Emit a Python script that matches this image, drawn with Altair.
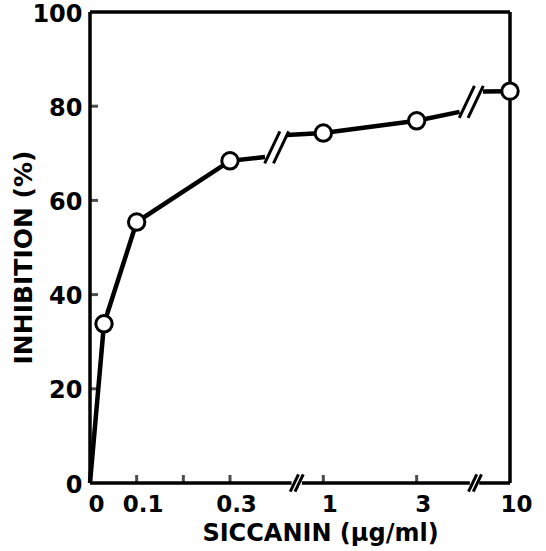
import altair as alt
import pandas as pd

# ---- data (x in broken-axis position units: 0->0, 0.1->0.5, 0.2->1, 0.3->1.5, 1->2.5, 3->3.5, 10->4.5)
TICK_POS = [0, 0.5, 1.5, 2.5, 3.5, 4.5]
TICK_LABELS = ["0", "0.1", "0.3", "1", "3", "10"]
X_TICK_MARKS = [0.5, 1.0, 1.5, 2.5, 3.5]
Y_TICKS = [0, 20, 40, 60, 80, 100]
Y_TICK_MARKS = [20, 40, 60, 80]

POINT_X = [0.15, 0.5, 1.5, 2.5, 3.5, 4.5]
POINT_Y = [33.8, 55.4, 68.4, 74.3, 76.9, 83.2]

SEG_ID = [1, 1, 1, 1, 1, 2, 2, 2, 2, 3, 3]
SEG_X = [0, 0.15, 0.5, 1.5, 1.875, 2.11, 2.5, 3.5, 3.96, 4.21, 4.5]
SEG_Y = [0, 33.8, 55.4, 68.4, 69.2, 73.9, 74.3, 76.9, 78.8, 83.1, 83.2]

LINE_BREAK_X = [2.0, 4.085]
LINE_BREAK_Y = [71.25, 80.9]
AXIS_BREAK_X = [2.215, 4.125]
AXIS_SEG_START = [0, 2.27, 4.17]
AXIS_SEG_END = [2.16, 4.07, 4.5]

X_MAX = 4.5
Y_MAX = 100

FONT = "DejaVu Sans"
SLASH = "M -0.75 1 L 0.2 -1 M -0.2 1 L 0.75 -1"

xs = alt.Scale(domain=[0, X_MAX], nice=False, zero=False)
ys = alt.Scale(domain=[0, Y_MAX], nice=False, zero=False)

label_expr = "{}[indexof({}, datum.value)]".format(
    "[" + ",".join("'%s'" % l for l in TICK_LABELS) + "]",
    "[" + ",".join(str(p) for p in TICK_POS) + "]",
)

x_axis = alt.Axis(
    values=TICK_POS, labelExpr=label_expr, title="SICCANIN (µg/ml)",
    domain=False, ticks=False, grid=False,
    labelFlush=False, labelOverlap=False, labelBound=False,
    labelFont=FONT, labelFontSize=23, labelFontWeight="bold", labelColor="black",
    labelPadding=10, labelOffset=6, labelAlign="center", labelBaseline="top",
    titleFont=FONT, titleFontSize=24, titleFontWeight="bold", titleColor="black",
    titleX=230, titleY=38, titleBaseline="top", titleAlign="center",
)
y_axis = alt.Axis(
    values=Y_TICKS, format="d", title="INHIBITION (%)",
    domain=False, ticks=False, grid=False,
    labelFlush=False, labelOverlap=False, labelBound=False,
    labelFont=FONT, labelFontSize=24, labelFontWeight="bold", labelColor="black",
    labelPadding=8, labelOffset=2,
    titleFont=FONT, titleFontSize=25, titleFontWeight="bold", titleColor="black",
    titleX=-67, titleY=245, titleAngle=270, titleBaseline="middle", titleAlign="center",
)

X = alt.X("x:Q", scale=xs, axis=x_axis)
Y = alt.Y("y:Q", scale=ys, axis=y_axis)

seg_df = pd.DataFrame({"seg": SEG_ID, "x": SEG_X, "y": SEG_Y})
pts_df = pd.DataFrame({"x": POINT_X, "y": POINT_Y})
lb_df = pd.DataFrame({"x": LINE_BREAK_X, "y": LINE_BREAK_Y})
ab_df = pd.DataFrame({"x": AXIS_BREAK_X, "y": [0] * len(AXIS_BREAK_X)})
bottom_df = pd.DataFrame({"x": AXIS_SEG_START, "x2": AXIS_SEG_END, "y": [0] * len(AXIS_SEG_START)})
frame_v_df = pd.DataFrame({"x": [0, X_MAX], "y": [0, 0], "y2": [Y_MAX, Y_MAX]})
frame_t_df = pd.DataFrame({"x": [0], "x2": [X_MAX], "y": [Y_MAX]})
xt_df = pd.DataFrame({"x": X_TICK_MARKS, "y": [0] * len(X_TICK_MARKS)})
yt_df = pd.DataFrame({"x": [0] * len(Y_TICK_MARKS), "y": Y_TICK_MARKS})

frame_v = alt.Chart(frame_v_df).mark_rule(color="black", strokeWidth=3.5).encode(x=X, y=Y, y2="y2:Q")
frame_t = alt.Chart(frame_t_df).mark_rule(color="black", strokeWidth=3.5).encode(x=X, x2="x2:Q", y=Y)
bottom = alt.Chart(bottom_df).mark_rule(color="black", strokeWidth=3.5).encode(x=X, x2="x2:Q", y=Y)

xticks = alt.Chart(xt_df).mark_tick(color="black", orient="vertical", size=8, thickness=3,
                                    yOffset=-4).encode(x=X, y=Y)
yticks = alt.Chart(yt_df).mark_tick(color="black", orient="horizontal", size=8, thickness=3,
                                    xOffset=4).encode(x=X, y=Y)

axis_breaks = alt.Chart(ab_df).mark_point(shape=SLASH, size=300, filled=False, stroke="black",
                                          strokeWidth=3, opacity=1).encode(x=X, y=Y)

line = alt.Chart(seg_df).mark_line(color="black", strokeWidth=4.5).encode(
    x=X, y=Y, detail="seg:N", order="x:Q")

line_breaks = alt.Chart(lb_df).mark_point(shape=SLASH, size=1024, filled=False, stroke="black",
                                          strokeWidth=3, opacity=1).encode(x=X, y=Y)

points = alt.Chart(pts_df).mark_point(shape="circle", size=270, filled=True, fill="white",
                                      stroke="black", strokeWidth=3, opacity=1).encode(x=X, y=Y)

chart = alt.layer(
    frame_v, frame_t, bottom, xticks, yticks, axis_breaks, line, line_breaks, points
).properties(
    width=420, height=471,
    autosize=alt.AutoSizeParams(type="none"),
    padding={"left": 90, "top": 12, "right": 36, "bottom": 68},
    background="white",
).configure_view(stroke=None)

chart.save("out.html", embed_options={"renderer": "svg", "actions": False})
